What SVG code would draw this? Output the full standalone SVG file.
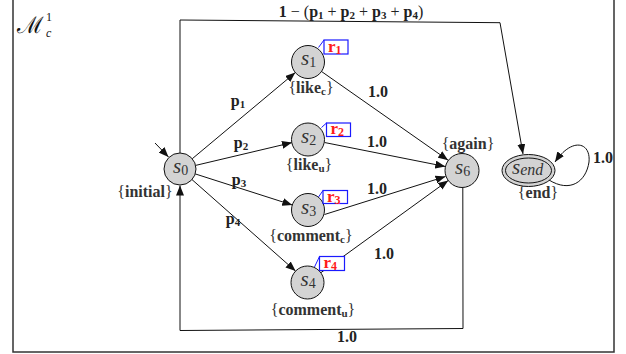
<svg xmlns="http://www.w3.org/2000/svg" width="626" height="354" viewBox="0 0 626 354">
<style>
  .node { fill: #d3d3d3; stroke: #111; stroke-width: 1; }
  .edge { fill: none; stroke: #111; stroke-width: 1; }
  .rline { fill: none; stroke: #1a1aff; stroke-width: 1; }
  .rbox { fill: #fff; stroke: #1a1aff; stroke-width: 1.2; }
  .rtxt { font-family: "Liberation Serif", serif; font-weight: bold; font-size: 17px; fill: #ff1a1a; }
  .rs { font-size: 12px; }
  .st { font-family: "Liberation Serif", serif; font-style: italic; font-size: 21px; fill: #333; }
  .sub { font-style: normal; font-size: 14px; }
  .lbl { font-family: "Liberation Serif", serif; font-weight: bold; font-size: 16px; fill: #333; text-anchor: middle; }
  .br { font-weight: normal; }
  .es { font-size: 11px; }
  .elbl { font-family: "Liberation Serif", serif; font-weight: bold; font-size: 16px; fill: #222; text-anchor: middle; }
</style>
<defs>
  <marker id="arr" viewBox="0 0 10 8" refX="10" refY="4" markerWidth="10" markerHeight="8" markerUnits="userSpaceOnUse" orient="auto">
    <path d="M0,0 L10,4 L0,8 z" fill="#111"/>
  </marker>
</defs>
<rect x="13" y="-2" width="601" height="354" fill="#fff" stroke="#333" stroke-width="1.5"/>
<text x="17" y="33" font-family="DejaVu Serif, serif" font-size="23" fill="#111">ℳ<tspan x="46" y="21" font-family="Liberation Serif, serif" font-size="12">1</tspan><tspan x="46" y="37" font-family="Liberation Serif, serif" font-style="italic" font-size="12">c</tspan></text>

<g id="connectors">
  <polyline class="edge" points="180,153 180,20 500,22.7 523,154" marker-end="url(#arr)"/>
  <line class="edge" x1="155" y1="143" x2="168.5" y2="157" marker-end="url(#arr)"/>
  <line class="edge" x1="192.3" y1="158.7" x2="295.3" y2="72.6" marker-end="url(#arr)"/>
  <line class="edge" x1="195.6" y1="165.4" x2="292" y2="142.6" marker-end="url(#arr)"/>
  <line class="edge" x1="195.2" y1="173.9" x2="292.3" y2="205" marker-end="url(#arr)"/>
  <line class="edge" x1="192" y1="179.6" x2="295.6" y2="271.1" marker-end="url(#arr)"/>
  <line class="edge" x1="321.1" y1="71.2" x2="448.1" y2="160.2" marker-end="url(#arr)"/>
  <line class="edge" x1="324.5" y1="142.5" x2="445.3" y2="166.5" marker-end="url(#arr)"/>
  <line class="edge" x1="324.5" y1="214.5" x2="445.5" y2="176.5" marker-end="url(#arr)"/>
  <line class="edge" x1="321" y1="272.6" x2="448.2" y2="180.5" marker-end="url(#arr)"/>
  <polyline class="edge" points="462.8,187.5 463,328.5 180,330.5 180,185.5" marker-end="url(#arr)"/>
  <path class="edge" d="M549,180 C570,193 586,182 589,162 C591,142 572,137 555,162" marker-end="url(#arr)"/>
  <text class="elbl" x="351" y="17">1 <tspan class="br">−</tspan> <tspan class="br">(</tspan>p<tspan class="es" dy="2">1</tspan><tspan dy="-2"> </tspan><tspan class="br">+</tspan> p<tspan class="es" dy="2">2</tspan><tspan dy="-2"> </tspan><tspan class="br">+</tspan> p<tspan class="es" dy="2">3</tspan><tspan dy="-2"> </tspan><tspan class="br">+</tspan> p<tspan class="es" dy="2">4</tspan><tspan class="br" dy="-2">)</tspan></text>
  <text class="elbl" x="238" y="106">p<tspan class="es" dy="2">1</tspan></text>
  <text class="elbl" x="241" y="148">p<tspan class="es" dy="2">2</tspan></text>
  <text class="elbl" x="239" y="185">p<tspan class="es" dy="2">3</tspan></text>
  <text class="elbl" x="233" y="224">p<tspan class="es" dy="2">4</tspan></text>
  <text class="elbl" x="378" y="97">1.0</text>
  <text class="elbl" x="377" y="147">1.0</text>
  <text class="elbl" x="377" y="194">1.0</text>
  <text class="elbl" x="384" y="259">1.0</text>
  <text class="elbl" x="347" y="342">1.0</text>
  <text class="elbl" x="603" y="163">1.0</text>
</g>

<g id="s0">
  <circle class="node" cx="180" cy="169" r="16"/>
  <text class="st" x="173" y="173">s<tspan class="sub" dy="2">0</tspan></text>
  <text class="lbl" x="145" y="197"><tspan class="br">{</tspan>initial<tspan class="br">}</tspan></text>
</g>
<g id="s1">
  <circle class="node" cx="308" cy="62" r="16.5"/>
  <text class="st" x="301" y="65">s<tspan class="sub" dy="2">1</tspan></text>
  <text class="lbl" x="311" y="93"><tspan class="br">{</tspan>like<tspan class="es" dy="2">c</tspan><tspan class="br" dy="-2">}</tspan></text>
  <line class="rline" x1="318.5" y1="47.5" x2="324" y2="40"/>
  <rect class="rbox" x="324" y="40" width="24" height="14"/>
  <text class="rtxt" x="328" y="51.5">r<tspan class="rs" dy="2">1</tspan></text>
</g>
<g id="s2">
  <circle class="node" cx="308" cy="139.5" r="16.5"/>
  <text class="st" x="301" y="143">s<tspan class="sub" dy="2">2</tspan></text>
  <text class="lbl" x="309" y="170"><tspan class="br">{</tspan>like<tspan class="es" dy="2">u</tspan><tspan class="br" dy="-2">}</tspan></text>
  <line class="rline" x1="321.5" y1="127.5" x2="326.5" y2="123"/>
  <rect class="rbox" x="326.5" y="123" width="24" height="13.5"/>
  <text class="rtxt" x="330.5" y="134">r<tspan class="rs" dy="2">2</tspan></text>
</g>
<g id="s3">
  <circle class="node" cx="308" cy="210" r="16.5"/>
  <text class="st" x="301" y="214">s<tspan class="sub" dy="2">3</tspan></text>
  <text class="lbl" x="311" y="241"><tspan class="br">{</tspan>comment<tspan class="es" dy="2">c</tspan><tspan class="br" dy="-2">}</tspan></text>
  <line class="rline" x1="318.5" y1="197" x2="323" y2="190.5"/>
  <rect class="rbox" x="323" y="190.5" width="24.5" height="13"/>
  <text class="rtxt" x="327" y="201.5">r<tspan class="rs" dy="2">3</tspan></text>
</g>
<g id="s4">
  <circle class="node" cx="307.5" cy="282.5" r="16.5"/>
  <text class="st" x="300.5" y="286">s<tspan class="sub" dy="2">4</tspan></text>
  <text class="lbl" x="313" y="315"><tspan class="br">{</tspan>comment<tspan class="es" dy="2">u</tspan><tspan class="br" dy="-2">}</tspan></text>
  <line class="rline" x1="314.5" y1="267" x2="319.5" y2="256.5"/>
  <rect class="rbox" x="319.5" y="256.5" width="25" height="14"/>
  <text class="rtxt" x="323.5" y="268">r<tspan class="rs" dy="2">4</tspan></text>
</g>
<g id="s6">
  <circle class="node" cx="462" cy="170.5" r="17"/>
  <text class="st" x="455" y="174">s<tspan class="sub" dy="2">6</tspan></text>
  <text class="lbl" x="468" y="149"><tspan class="br">{</tspan>again<tspan class="br">}</tspan></text>
</g>
<g id="send">
  <ellipse class="node" cx="528.5" cy="170.5" rx="26.5" ry="16"/>
  <ellipse fill="none" stroke="#111" stroke-width="1" cx="528.5" cy="170.5" rx="23" ry="12.5"/>
  <text class="st" x="512" y="174">s<tspan font-size="16" dy="1">end</tspan></text>
  <text class="lbl" x="538" y="198"><tspan class="br">{</tspan>end<tspan class="br">}</tspan></text>
</g>
</svg>
